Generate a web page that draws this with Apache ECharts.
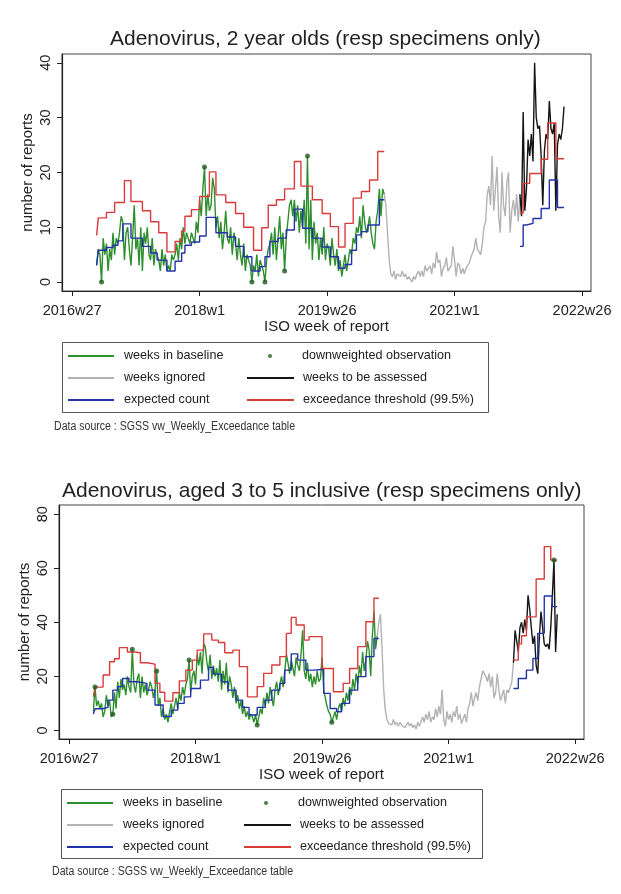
<!DOCTYPE html>
<html>
<head>
<meta charset="utf-8">
<script src="https://cdn.jsdelivr.net/npm/echarts@6/dist/echarts.min.js"></script>
<style>
html, body { margin: 0; padding: 0; background: #fff; }
#main { width: 621px; height: 894px; }
</style>
</head>
<body>
<div id="main"></div>
<script>
// x = weeks counted from 2016w27
var tickWeeks = [0, 78, 156, 234, 312];
var tickLabels = ['2016w27', '2018w1', '2019w26', '2021w1', '2022w26'];

// ---- chart 1: 2 year olds ----
var base1Start = 15;
var base1 = [3, 6, 5, 0, 8, 5, 7, 2, 6, 4, 9, 5, 8, 7, 9, 12,
  11, 4, 9, 10, 6, 3, 8, 14, 6, 8, 3, 10, 2, 9, 7, 10, 5, 4, 8, 3, 6, 5,
  4, 2, 6, 3, 5, 2, 3, 2, 5, 4,
  5, 7, 4, 8, 6, 10, 7, 9, 8, 7,
  9, 8, 7, 11, 9, 15, 12, 17, 21, 12, 16, 13, 14, 19, 17, 10,
  12, 8, 11, 6, 9, 13, 8, 7, 10, 5, 9,
  7, 4, 8, 5, 3, 7, 2, 5, 4, 3,
  0, 3, 2, 5, 1, 4, 3, 2, 0, 4, 6,
  7, 9, 5, 10, 4, 8, 12, 6, 9, 2, 8, 11, 14, 15, 12,
  15, 11, 14, 9, 13, 10, 15, 7, 23,
  6, 15, 4, 11, 7, 9, 4, 8,
  5, 10, 4, 7, 6, 3, 8, 5, 3, 6,
  2, 4, 1, 3, 5, 2, 4, 6,
  5, 8, 7, 10, 9, 12, 8, 14, 11, 9,
  10, 12, 9, 7, 6, 11, 13, 17, 12, 17, 16];
var ign1Start = 191;
var ign1 = [16, 14, 9, 4, 1.5, 1, 2, 0.5, 1.5, 1.5,
  1, 2, 1, 1.5, 0.5, 1, 0.5, 0, 1, 0.5,
  1.5, 2, 1, 2, 1, 3, 2, 2.5, 3, 1.5,
  3.5, 2.5, 5.5, 3.5, 4, 1, 2.5, 3, 4.5, 2,
  2, 3, 6.5, 4, 1, 3.5, 3, 1.5, 2.5, 1.5, 2.5, 3, 3.5, 4.5,
  4.5, 6, 8, 6, 5.5, 5, 7, 10, 11, 16, 17.5, 14, 23, 13, 17, 21,
  12, 9, 20, 14, 12, 18, 20, 9, 13, 15, 12, 16, 11, 16];
var ass1Start = 274;
var ass1 = [16, 12, 31, 13, 17, 26, 23, 27, 22, 40, 30, 28, 28.5, 23, 14,
  24, 27, 26, 33, 28, 27, 29, 13, 25, 27, 26, 28, 32];
var dots1Base = [18, 81, 110, 118, 130, 144];   // weeks of downweighted obs
var dots1Ass = [];
var exp1Weeks = [15, 16, 21, 25, 28, 31, 36, 43, 48, 52, 58, 63, 67, 69, 73, 78, 82, 88, 95, 100,
  105, 110, 115, 118, 121, 126, 131, 136, 141, 147, 153, 158, 163, 167, 171, 174, 177, 181, 188, 191];
var exp1 = [3.1, 5.8, 6.3, 6.7, 7.5, 10.6, 8.0, 6.5, 5.3, 4.0, 2.0, 3.8, 5.3, 6.7, 7.3, 8.4, 11.8, 9.0, 8.2, 6.5,
  4.6, 2.0, 2.8, 4.6, 7.4, 8.0, 9.5, 13.3, 9.8, 8.0, 6.4, 4.6, 2.5, 3.2, 5.8, 8.6, 9.2, 10.4, 15.0, 15.0];
var exp1bWeeks = [274, 276, 278, 282, 287, 292, 297, 301];
var exp1b = [6.5, 10.4, 10.7, 11.6, 13.4, 18.6, 13.6, 13.6];
var thr1Weeks = [15, 16, 21, 26, 32, 36, 43, 48, 53, 58, 63, 67, 69, 73, 78, 84, 88, 94, 100, 105,
  111, 116, 120, 125, 130, 136, 140, 147, 153, 158, 163, 167, 172, 177, 182, 187, 191];
var thr1 = [8.5, 11.7, 12.7, 14.5, 18.5, 14.7, 13.0, 11.0, 9.0, 5.5, 7.4, 9.3, 12.0, 13.2, 15.6, 20.1, 15.9, 14.5, 12.5, 10.0,
  5.8, 9.9, 14.0, 15.0, 17.0, 22.0, 17.5, 15.0, 12.5, 10.1, 6.4, 10.7, 15.3, 16.5, 18.6, 23.8, 23.8];
var thr1bWeeks = [274, 276, 280, 287, 291, 296, 301];
var thr1b = [12.6, 18.0, 19.8, 22.4, 29.0, 22.5, 22.5];

// ---- chart 2: aged 3 to 5 ----
var base2Start = 15;
var base2 = [7, 16, 9, 11, 8, 10, 5, 7, 13, 9, 11, 5, 6, 14, 8, 18,
  12, 19, 15, 17, 13, 20, 16, 14, 30, 17,
  14, 19, 21, 12, 20, 14, 17, 13, 15, 18, 16, 12,
  15, 22, 9, 12, 5, 8, 4, 6, 3, 7,
  10, 6, 9, 12, 8, 14, 11, 16, 13, 17,
  19, 26, 14, 20, 22, 17, 28, 24, 29, 21,
  32, 31, 25, 22, 28, 19, 24, 20, 23, 18,
  26, 15, 22, 17, 25, 14, 20, 17, 12, 16,
  10, 13, 8, 11, 6, 9, 5, 7, 4, 6,
  5, 3, 6, 2, 5, 8, 6, 12, 9, 14,
  10, 16, 12, 9, 15, 18, 13, 17, 20, 16,
  22, 28, 25, 21, 26, 23, 20, 27, 24, 22,
  28, 37, 22, 19, 25, 18, 21, 16, 20, 17,
  22, 18, 19, 27, 15, 12, 9, 7, 6, 3,
  5, 7, 4, 8, 10, 7, 12, 9, 14, 11,
  16, 13, 19, 15, 21, 17, 24, 20, 29, 22,
  26, 33, 30, 20, 35, 44, 30, 35];
var ign2Start = 190;
var ign2 = [35, 40, 43, 30, 15, 7.5, 4, 2.5, 3, 2,
  4, 2, 3, 1.5, 3, 2, 2.5, 1, 2, 3,
  1.5, 2.5, 1, 2, 0.5, 3, 1.5, 2, 5, 3,
  6, 4, 7, 3, 5, 4, 8, 5, 9, 6,
  15, 4, 1.5, 7, 4, 6, 3, 7, 5, 9,
  4, 6, 2.5, 3, 6, 3, 8, 10, 14, 9,
  12, 14, 11, 16, 19, 22, 21, 20, 18, 21,
  16, 20, 12, 14, 21, 15, 11, 13, 15, 10,
  15, 14, 16, 18, 25];
var ass2Start = 274;
var ass2 = [25, 37, 33, 29, 38, 40, 36, 41, 37, 50, 45, 38, 32, 35, 24,
  21, 35, 44, 38, 32, 31, 32, 30, 38, 50, 63, 29, 43];
var dots2Base = [16, 27, 39, 54, 74, 116, 162];
var dots2Ass = [299];
var exp2Weeks = [15, 16, 21, 24, 27, 30, 33, 37, 42, 48, 53, 58, 63, 67, 71, 75, 81, 86, 89, 94,
  98, 103, 107, 111, 116, 121, 125, 130, 133, 137, 141, 146, 151, 157, 161, 165, 168, 173, 178, 183, 188, 191];
var exp2 = [6.0, 8.0, 8.5, 11.2, 14.9, 16.2, 19.2, 18.0, 17.4, 14.9, 9.4, 5.1, 7.5, 10.0, 12.4, 15.5, 18.6, 23.3, 20.8, 18.0,
  14.9, 11.2, 8.5, 5.7, 8.5, 11.2, 14.9, 17.4, 22.3, 28.3, 26.0, 22.3, 22.6, 13.7, 8.1, 6.9, 10.0, 14.9, 19.9, 27.3, 34.0, 34.0];
var exp2bWeeks = [274, 277, 282, 286, 289, 293, 298, 301];
var exp2b = [15.5, 19.2, 22.3, 26.6, 35.9, 49.7, 45.8, 45.8];
var thr2Weeks = [15, 16, 21, 25, 28, 31, 36, 40, 44, 48, 53, 56, 59, 64, 68, 72, 76, 79, 83, 88,
  92, 96, 101, 105, 110, 116, 120, 125, 130, 134, 137, 140, 145, 148, 156, 163, 169, 173, 178, 183, 188, 191];
var thr2 = [12.5, 16.0, 20.5, 25.4, 26.5, 30.6, 29.0, 28.7, 25.0, 24.5, 17.4, 14.1, 10.8, 13.9, 18.3, 22.3, 26.0, 29.7, 35.7, 33.4,
  32.5, 28.7, 29.7, 23.6, 12.4, 16.2, 21.1, 24.2, 27.3, 35.9, 41.8, 39.0, 33.4, 34.7, 22.9, 14.3, 17.4, 22.9, 31.0, 40.2, 48.9, 48.9];
var thr2bWeeks = [274, 277, 279, 282, 288, 293, 297, 301];
var thr2b = [26, 32, 35, 42, 56, 68, 63, 63];

var FONT = '"Liberation Sans", Arial, Helvetica, sans-serif';
var C_BASE = '#2e8f2e', C_IGN = '#b3b3b3', C_ASS = '#151515', C_EXP = '#2233aa', C_THR = '#d93b3b', C_DOT = '#1d5a1d';

function weekly(start, vals) {
  return vals.map(function (v, i) { return [start + i, v]; });
}
function pairs(weeks, vals) {
  return weeks.map(function (w, i) { return [w, vals[i]]; });
}
function pick(start, vals, weeks) {
  return weeks.map(function (w) { return [w, vals[w - start]]; });
}

function xAxisFor(g) {
  return {
    gridIndex: g, type: 'value', min: -6.2, max: 317.5,
    axisLine: { show: true, onZero: false, lineStyle: { color: '#222', width: 1.2 } },
    axisTick: { show: true, length: 5, customValues: tickWeeks, lineStyle: { color: '#222' } },
    axisLabel: {
      customValues: tickWeeks, fontSize: 14.5, color: '#222', margin: 12, fontFamily: FONT,
      formatter: function (v) { var i = tickWeeks.indexOf(v); return i >= 0 ? tickLabels[i] : ''; }
    },
    splitLine: { show: false },
    name: 'ISO week of report', nameLocation: 'middle', nameGap: 27,
    nameTextStyle: { fontSize: 15, color: '#222', fontFamily: FONT }
  };
}
function yAxisFor(g, min, max, ticks) {
  return {
    gridIndex: g, type: 'value', min: min, max: max,
    axisLine: { show: true, onZero: false, lineStyle: { color: '#222', width: 1.2 } },
    axisTick: { show: true, length: 5, customValues: ticks, lineStyle: { color: '#222' } },
    axisLabel: { customValues: ticks, rotate: 90, fontSize: 14.5, color: '#222', margin: 9, fontFamily: FONT },
    splitLine: { show: false },
    name: 'number of reports', nameLocation: 'middle', nameGap: 27, nameRotate: 90, nameMoveOverlap: false,
    nameTextStyle: { fontSize: 15, color: '#222', fontFamily: FONT }
  };
}
function lineSeries(name, g, data, color, step) {
  var s = {
    name: name, type: 'line', xAxisIndex: g, yAxisIndex: g, data: data,
    symbol: 'none', lineStyle: { color: color, width: 1.4 }, itemStyle: { color: color }
  };
  if (step) s.step = 'end';
  return s;
}
function dotSeries(g, data) {
  return {
    name: 'downweighted observation', type: 'scatter', xAxisIndex: g, yAxisIndex: g,
    data: data, symbol: 'circle', symbolSize: 5, itemStyle: { color: C_DOT }, z: 5
  };
}
function legends(rowTop, leftX, rightX, dotX) {
  var txt = { fontSize: 12.6, color: '#222', fontFamily: FONT, lineHeight: 16 };
  return [
    { orient: 'vertical', left: leftX, top: rowTop, padding: 0, itemWidth: 46, itemHeight: 16, itemGap: 6,
      selectedMode: false, data: ['weeks in baseline', 'weeks ignored', 'expected count'],
      itemStyle: { opacity: 0 }, lineStyle: { width: 2 },
      textStyle: Object.assign({ padding: [0, 0, 0, 5] }, txt) },
    { orient: 'vertical', left: rightX, top: rowTop + 22, padding: 0, itemWidth: 47, itemHeight: 16, itemGap: 6,
      selectedMode: false, data: ['weeks to be assessed', 'exceedance threshold (99.5%)'],
      itemStyle: { opacity: 0 }, lineStyle: { width: 2 },
      textStyle: Object.assign({ padding: [0, 0, 0, 4] }, txt) },
    { orient: 'vertical', left: dotX, top: rowTop, padding: 0, itemWidth: 4, itemHeight: 4,
      selectedMode: false, data: ['downweighted observation'],
      textStyle: Object.assign({ padding: [0, 0, 0, 25] }, txt) }
  ];
}

var chart = echarts.init(document.getElementById('main'));
chart.setOption({
  animation: false,
  backgroundColor: '#fff',
  textStyle: { fontFamily: FONT },
  title: [
    { text: 'Adenovirus, 2 year olds (resp specimens only)', left: 110, top: 27, padding: 0,
      textStyle: { fontSize: 21, fontWeight: 'normal', color: '#222', fontFamily: FONT, lineHeight: 25 } },
    { text: 'Adenovirus, aged 3 to 5 inclusive (resp specimens only)', left: 62, top: 479, padding: 0,
      textStyle: { fontSize: 21, fontWeight: 'normal', color: '#222', fontFamily: FONT, lineHeight: 25 } }
  ],
  grid: [
    { left: 62, top: 54, width: 529, height: 237, show: true, borderColor: '#444', borderWidth: 1,
      containLabel: false, outerBoundsMode: 'none' },
    { left: 59, top: 505, width: 525, height: 234, show: true, borderColor: '#444', borderWidth: 1,
      containLabel: false, outerBoundsMode: 'none' }
  ],
  xAxis: [xAxisFor(0), xAxisFor(1)],
  yAxis: [yAxisFor(0, -1.64, 41.6, [0, 10, 20, 30, 40]), yAxisFor(1, -3.2, 83.4, [0, 20, 40, 60, 80])],
  legend: legends(348, 67, 246, 268).concat(legends(795, 66, 243, 264)),
  graphic: [
    { type: 'rect', shape: { x: 62.5, y: 342.5, width: 426, height: 70 },
      style: { fill: 'none', stroke: '#555', lineWidth: 1 }, silent: true },
    { type: 'text', x: 54, y: 427, scaleX: 0.88, style: { text: 'Data source : SGSS vw_Weekly_Exceedance table',
      font: '12px "Liberation Sans", Arial', fill: '#333', verticalAlign: 'middle' } },
    { type: 'rect', shape: { x: 61.5, y: 789.5, width: 421, height: 69 },
      style: { fill: 'none', stroke: '#555', lineWidth: 1 }, silent: true },
    { type: 'text', x: 52, y: 872, scaleX: 0.88, style: { text: 'Data source : SGSS vw_Weekly_Exceedance table',
      font: '12px "Liberation Sans", Arial', fill: '#333', verticalAlign: 'middle' } }
  ],
  series: [
    lineSeries('weeks in baseline', 0, weekly(base1Start, base1), C_BASE),
    lineSeries('weeks ignored', 0, weekly(ign1Start, ign1), C_IGN),
    lineSeries('weeks to be assessed', 0, weekly(ass1Start, ass1), C_ASS),
    lineSeries('expected count', 0, pairs(exp1Weeks, exp1), C_EXP, true),
    lineSeries('expected count', 0, pairs(exp1bWeeks, exp1b), C_EXP, true),
    lineSeries('exceedance threshold (99.5%)', 0, pairs(thr1Weeks, thr1), C_THR, true),
    lineSeries('exceedance threshold (99.5%)', 0, pairs(thr1bWeeks, thr1b), C_THR, true),
    dotSeries(0, pick(base1Start, base1, dots1Base).concat(pick(ass1Start, ass1, dots1Ass))),

    lineSeries('weeks in baseline', 1, weekly(base2Start, base2), C_BASE),
    lineSeries('weeks ignored', 1, weekly(ign2Start, ign2), C_IGN),
    lineSeries('weeks to be assessed', 1, weekly(ass2Start, ass2), C_ASS),
    lineSeries('expected count', 1, pairs(exp2Weeks, exp2), C_EXP, true),
    lineSeries('expected count', 1, pairs(exp2bWeeks, exp2b), C_EXP, true),
    lineSeries('exceedance threshold (99.5%)', 1, pairs(thr2Weeks, thr2), C_THR, true),
    lineSeries('exceedance threshold (99.5%)', 1, pairs(thr2bWeeks, thr2b), C_THR, true),
    dotSeries(1, pick(base2Start, base2, dots2Base).concat(pick(ass2Start, ass2, dots2Ass)))
  ]
});
</script>
</body>
</html>
